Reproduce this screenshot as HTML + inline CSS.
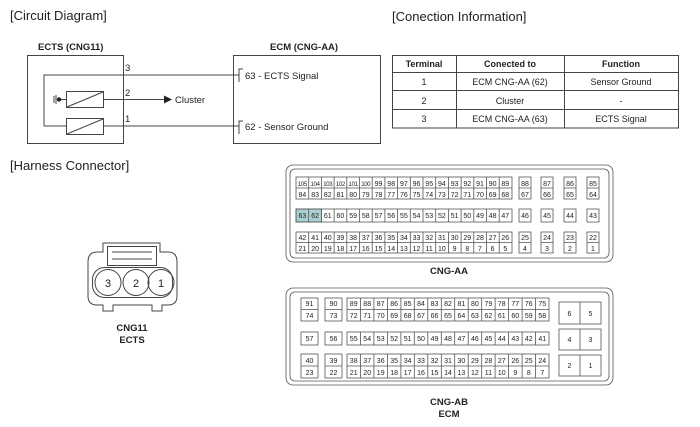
<!DOCTYPE html>
<html><head><meta charset="utf-8"><style>
body{margin:0;background:#fff;}
svg{display:block;font-family:"Liberation Sans",sans-serif;}
.s{font-size:7px;text-anchor:middle;fill:#222}
.m{font-size:8px;text-anchor:middle;fill:#222}
</style></head><body>
<svg width="700" height="427" viewBox="0 0 700 427" xmlns="http://www.w3.org/2000/svg">
<g fill="none" stroke="#444" stroke-width="1">
<text x="10" y="20" font-size="13" fill="#222" stroke="none">[Circuit Diagram]</text>
<text x="392" y="21" font-size="13" fill="#222" stroke="none">[Conection Information]</text>
<text x="10" y="170" font-size="13" fill="#222" stroke="none">[Harness Connector]</text>
<!-- circuit -->
<rect x="27.5" y="55.5" width="96" height="88"/>
<rect x="233.5" y="55.5" width="147" height="88"/>
<polyline points="243,69 239,69 239,82"/>
<polyline points="243,121 239,121 239,134"/>
<polyline points="44,126 44,75 239,75"/>
<line x1="44" y1="126" x2="66" y2="126"/>
<line x1="103" y1="126" x2="239" y2="126"/>
<rect x="66.5" y="91.5" width="37" height="16"/>
<line x1="67" y1="107" x2="103" y2="92"/>
<rect x="66.5" y="118.5" width="37" height="16"/>
<line x1="67" y1="134" x2="103" y2="119"/>
<line x1="59" y1="99.5" x2="66" y2="99.5"/>
<line x1="103" y1="99.5" x2="164" y2="99.5"/>
<polygon points="164,95.5 172,99.5 164,103.5" fill="#222" stroke="none"/>
<circle cx="59" cy="99.5" r="2.2" fill="#222" stroke="none"/>
<line x1="54" y1="96" x2="54" y2="103"/><line x1="56" y1="95" x2="56" y2="104"/>
</g>
<g font-size="9.5" fill="#222">
<text x="38" y="50" font-weight="bold">ECTS (CNG11)</text>
<text x="270" y="50" font-weight="bold">ECM (CNG-AA)</text>
<text x="125" y="71">3</text><text x="125" y="96">2</text><text x="125" y="122">1</text>
<text x="175" y="103">Cluster</text>
<text x="245" y="79">63 - ECTS Signal</text>
<text x="245" y="130">62 - Sensor Ground</text>
</g>
<!-- table -->
<g fill="none" stroke="#444">
<rect x="392.5" y="55.5" width="286" height="72.5"/>
<line x1="392" y1="72.5" x2="678" y2="72.5"/>
<line x1="392" y1="90.5" x2="678" y2="90.5"/>
<line x1="392" y1="109.5" x2="678" y2="109.5"/>
<line x1="456.5" y1="55" x2="456.5" y2="128"/>
<line x1="564.5" y1="55" x2="564.5" y2="128"/>
</g>
<g font-size="9" fill="#222" text-anchor="middle">
<text x="424" y="67" font-weight="bold">Terminal</text><text x="510" y="67" font-weight="bold">Conected to</text><text x="621" y="67" font-weight="bold">Function</text>
<text x="424" y="85">1</text><text x="510" y="85">ECM CNG-AA (62)</text><text x="621" y="85">Sensor Ground</text>
<text x="424" y="104">2</text><text x="510" y="104">Cluster</text><text x="621" y="104">-</text>
<text x="424" y="122">3</text><text x="510" y="122">ECM CNG-AA (63)</text><text x="621" y="122">ECTS Signal</text>
</g>
<!-- CNG11 connector -->
<g fill="none" stroke="#444">
<path d="M103,243 L160,243 L160,252 L168,252 Q177,252 177,262 L177,296 Q177,305 168,305 L162,305 L162,311 L152,311 L152,305 L113,305 L113,311 L103,311 L103,305 L97,305 Q88,305 88,296 L88,262 Q88,252 97,252 L103,252 Z"/>
<rect x="107.5" y="246.5" width="49" height="19"/>
<line x1="112" y1="252" x2="152" y2="252"/><line x1="112" y1="259" x2="152" y2="259"/>
<rect x="92.5" y="267.5" width="80" height="30" rx="12"/>
<circle cx="108" cy="282.5" r="13"/><circle cx="136" cy="282.5" r="13"/><circle cx="164" cy="282.5" r="13" transform="translate(-3,0)"/>
</g>
<g font-size="11" fill="#222" text-anchor="middle">
<text x="108" y="287">3</text><text x="136" y="287">2</text><text x="161" y="287">1</text>
</g>
<g font-size="9.5" font-weight="bold" fill="#222" text-anchor="middle">
<text x="132" y="331">CNG11</text><text x="132" y="343">ECTS</text>
<text x="449" y="274">CNG-AA</text>
<text x="449" y="405">CNG-AB</text><text x="449" y="417">ECM</text>
</g>
<!-- CNG-AA -->
<g fill="none" stroke="#555" stroke-width="0.8">
<rect x="286" y="165" width="327" height="97" rx="7"/>
<rect x="290" y="169" width="319" height="89" rx="5"/>
<rect x="296" y="209" width="25.4" height="13" fill="#a9d0d2"/>
<rect x="296" y="177" width="216" height="22"/><line x1="296" y1="188" x2="512" y2="188"/>
<rect x="296" y="209" width="216" height="13"/>
<rect x="296" y="232" width="216" height="21"/><line x1="296" y1="242.5" x2="512" y2="242.5"/>
<path d="M308.7,177v22M321.4,177v22M334.1,177v22M346.8,177v22M359.5,177v22M372.2,177v22M384.9,177v22M397.6,177v22M410.3,177v22M423,177v22M435.7,177v22M448.4,177v22M461.1,177v22M473.8,177v22M486.5,177v22M499.2,177v22"/>
<path d="M308.7,209v13M321.4,209v13M334.1,209v13M346.8,209v13M359.5,209v13M372.2,209v13M384.9,209v13M397.6,209v13M410.3,209v13M423,209v13M435.7,209v13M448.4,209v13M461.1,209v13M473.8,209v13M486.5,209v13M499.2,209v13"/>
<path d="M308.7,232v21M321.4,232v21M334.1,232v21M346.8,232v21M359.5,232v21M372.2,232v21M384.9,232v21M397.6,232v21M410.3,232v21M423,232v21M435.7,232v21M448.4,232v21M461.1,232v21M473.8,232v21M486.5,232v21M499.2,232v21"/>
<rect x="519" y="177" width="12" height="22"/><rect x="541" y="177" width="12" height="22"/><rect x="564" y="177" width="12" height="22"/><rect x="587" y="177" width="12" height="22"/>
<path d="M519,188h12M541,188h12M564,188h12M587,188h12M519,242.5h12M541,242.5h12M564,242.5h12M587,242.5h12"/>
<rect x="519" y="209" width="12" height="13"/><rect x="541" y="209" width="12" height="13"/><rect x="564" y="209" width="12" height="13"/><rect x="587" y="209" width="12" height="13"/>
<rect x="519" y="232" width="12" height="21"/><rect x="541" y="232" width="12" height="21"/><rect x="564" y="232" width="12" height="21"/><rect x="587" y="232" width="12" height="21"/>
</g>
<g class="s">
<g font-size="6" letter-spacing="-0.3"><text x="302.4" y="186">105</text><text x="315.1" y="186">104</text><text x="327.8" y="186">103</text><text x="340.4" y="186">102</text><text x="353.1" y="186">101</text><text x="365.8" y="186">100</text></g>
<text x="378.5" y="186">99</text><text x="391.2" y="186">98</text><text x="403.9" y="186">97</text><text x="416.5" y="186">96</text><text x="429.2" y="186">95</text><text x="441.9" y="186">94</text><text x="454.6" y="186">93</text><text x="467.3" y="186">92</text><text x="480" y="186">91</text><text x="492.6" y="186">90</text><text x="505.3" y="186">89</text>
<text x="302.4" y="197">84</text><text x="315.1" y="197">83</text><text x="327.8" y="197">82</text><text x="340.4" y="197">81</text><text x="353.1" y="197">80</text><text x="365.8" y="197">79</text><text x="378.5" y="197">78</text><text x="391.2" y="197">77</text><text x="403.9" y="197">76</text><text x="416.5" y="197">75</text><text x="429.2" y="197">74</text><text x="441.9" y="197">73</text><text x="454.6" y="197">72</text><text x="467.3" y="197">71</text><text x="480" y="197">70</text><text x="492.6" y="197">69</text><text x="505.3" y="197">68</text>
<text x="302.4" y="218">63</text><text x="315.1" y="218">62</text><text x="327.8" y="218">61</text><text x="340.4" y="218">60</text><text x="353.1" y="218">59</text><text x="365.8" y="218">58</text><text x="378.5" y="218">57</text><text x="391.2" y="218">56</text><text x="403.9" y="218">55</text><text x="416.5" y="218">54</text><text x="429.2" y="218">53</text><text x="441.9" y="218">52</text><text x="454.6" y="218">51</text><text x="467.3" y="218">50</text><text x="480" y="218">49</text><text x="492.6" y="218">48</text><text x="505.3" y="218">47</text>
<text x="302.4" y="240">42</text><text x="315.1" y="240">41</text><text x="327.8" y="240">40</text><text x="340.4" y="240">39</text><text x="353.1" y="240">38</text><text x="365.8" y="240">37</text><text x="378.5" y="240">36</text><text x="391.2" y="240">35</text><text x="403.9" y="240">34</text><text x="416.5" y="240">33</text><text x="429.2" y="240">32</text><text x="441.9" y="240">31</text><text x="454.6" y="240">30</text><text x="467.3" y="240">29</text><text x="480" y="240">28</text><text x="492.6" y="240">27</text><text x="505.3" y="240">26</text>
<text x="302.4" y="251">21</text><text x="315.1" y="251">20</text><text x="327.8" y="251">19</text><text x="340.4" y="251">18</text><text x="353.1" y="251">17</text><text x="365.8" y="251">16</text><text x="378.5" y="251">15</text><text x="391.2" y="251">14</text><text x="403.9" y="251">13</text><text x="416.5" y="251">12</text><text x="429.2" y="251">11</text><text x="441.9" y="251">10</text><text x="454.6" y="251">9</text><text x="467.3" y="251">8</text><text x="480" y="251">7</text><text x="492.6" y="251">6</text><text x="505.3" y="251">5</text>
<text x="525" y="186">88</text><text x="547" y="186">87</text><text x="570" y="186">86</text><text x="593" y="186">85</text>
<text x="525" y="197">67</text><text x="547" y="197">66</text><text x="570" y="197">65</text><text x="593" y="197">64</text>
<text x="525" y="218">46</text><text x="547" y="218">45</text><text x="570" y="218">44</text><text x="593" y="218">43</text>
<text x="525" y="240">25</text><text x="547" y="240">24</text><text x="570" y="240">23</text><text x="593" y="240">22</text>
<text x="525" y="251">4</text><text x="547" y="251">3</text><text x="570" y="251">2</text><text x="593" y="251">1</text>
</g>
<!-- CNG-AB -->
<g fill="none" stroke="#555" stroke-width="0.8">
<rect x="286" y="288" width="327" height="97" rx="7"/>
<rect x="290" y="292" width="319" height="89" rx="5"/>
<rect x="301" y="298" width="17" height="23"/><rect x="325" y="298" width="17" height="23"/><rect x="347" y="298" width="202" height="23"/>
<path d="M301,309.5h17M325,309.5h17M347,309.5h202M301,366h17M325,366h17M347,366h202"/>
<rect x="301" y="332" width="17" height="13"/><rect x="325" y="332" width="17" height="13"/><rect x="347" y="332" width="202" height="13"/>
<rect x="301" y="354" width="17" height="24"/><rect x="325" y="354" width="17" height="24"/><rect x="347" y="354" width="202" height="24"/>
<path d="M360.5,298v23M373.9,298v23M387.4,298v23M400.9,298v23M414.3,298v23M427.8,298v23M441.3,298v23M454.7,298v23M468.2,298v23M481.7,298v23M495.1,298v23M508.6,298v23M522.1,298v23M535.5,298v23"/>
<path d="M360.5,332v13M373.9,332v13M387.4,332v13M400.9,332v13M414.3,332v13M427.8,332v13M441.3,332v13M454.7,332v13M468.2,332v13M481.7,332v13M495.1,332v13M508.6,332v13M522.1,332v13M535.5,332v13"/>
<path d="M360.5,354v24M373.9,354v24M387.4,354v24M400.9,354v24M414.3,354v24M427.8,354v24M441.3,354v24M454.7,354v24M468.2,354v24M481.7,354v24M495.1,354v24M508.6,354v24M522.1,354v24M535.5,354v24"/>
<rect x="559" y="302" width="42" height="22"/><rect x="559" y="329" width="42" height="21"/><rect x="559" y="355" width="42" height="21"/>
<path d="M580,302v22M580,329v21M580,355v21"/>
</g>
<g class="s">
<text x="309.5" y="306">91</text><text x="333.5" y="306">90</text><text x="309.5" y="318">74</text><text x="333.5" y="318">73</text>
<text x="309.5" y="341">57</text><text x="333.5" y="341">56</text>
<text x="309.5" y="363">40</text><text x="333.5" y="363">39</text><text x="309.5" y="375">23</text><text x="333.5" y="375">22</text>
<text x="353.7" y="306">89</text><text x="367.2" y="306">88</text><text x="380.7" y="306">87</text><text x="394.1" y="306">86</text><text x="407.6" y="306">85</text><text x="421" y="306">84</text><text x="434.5" y="306">83</text><text x="448" y="306">82</text><text x="461.4" y="306">81</text><text x="474.9" y="306">80</text><text x="488.4" y="306">79</text><text x="501.8" y="306">78</text><text x="515.3" y="306">77</text><text x="528.8" y="306">76</text><text x="542.3" y="306">75</text>
<text x="353.7" y="318">72</text><text x="367.2" y="318">71</text><text x="380.7" y="318">70</text><text x="394.1" y="318">69</text><text x="407.6" y="318">68</text><text x="421" y="318">67</text><text x="434.5" y="318">66</text><text x="448" y="318">65</text><text x="461.4" y="318">64</text><text x="474.9" y="318">63</text><text x="488.4" y="318">62</text><text x="501.8" y="318">61</text><text x="515.3" y="318">60</text><text x="528.8" y="318">59</text><text x="542.3" y="318">58</text>
<text x="353.7" y="341">55</text><text x="367.2" y="341">54</text><text x="380.7" y="341">53</text><text x="394.1" y="341">52</text><text x="407.6" y="341">51</text><text x="421" y="341">50</text><text x="434.5" y="341">49</text><text x="448" y="341">48</text><text x="461.4" y="341">47</text><text x="474.9" y="341">46</text><text x="488.4" y="341">45</text><text x="501.8" y="341">44</text><text x="515.3" y="341">43</text><text x="528.8" y="341">42</text><text x="542.3" y="341">41</text>
<text x="353.7" y="363">38</text><text x="367.2" y="363">37</text><text x="380.7" y="363">36</text><text x="394.1" y="363">35</text><text x="407.6" y="363">34</text><text x="421" y="363">33</text><text x="434.5" y="363">32</text><text x="448" y="363">31</text><text x="461.4" y="363">30</text><text x="474.9" y="363">29</text><text x="488.4" y="363">28</text><text x="501.8" y="363">27</text><text x="515.3" y="363">26</text><text x="528.8" y="363">25</text><text x="542.3" y="363">24</text>
<text x="353.7" y="375">21</text><text x="367.2" y="375">20</text><text x="380.7" y="375">19</text><text x="394.1" y="375">18</text><text x="407.6" y="375">17</text><text x="421" y="375">16</text><text x="434.5" y="375">15</text><text x="448" y="375">14</text><text x="461.4" y="375">13</text><text x="474.9" y="375">12</text><text x="488.4" y="375">11</text><text x="501.8" y="375">10</text><text x="515.3" y="375">9</text><text x="528.8" y="375">8</text><text x="542.3" y="375">7</text>
<text x="569.5" y="316">6</text><text x="590.5" y="316">5</text><text x="569.5" y="342">4</text><text x="590.5" y="342">3</text><text x="569.5" y="368">2</text><text x="590.5" y="368">1</text>
</g>
</svg>
</body></html>
